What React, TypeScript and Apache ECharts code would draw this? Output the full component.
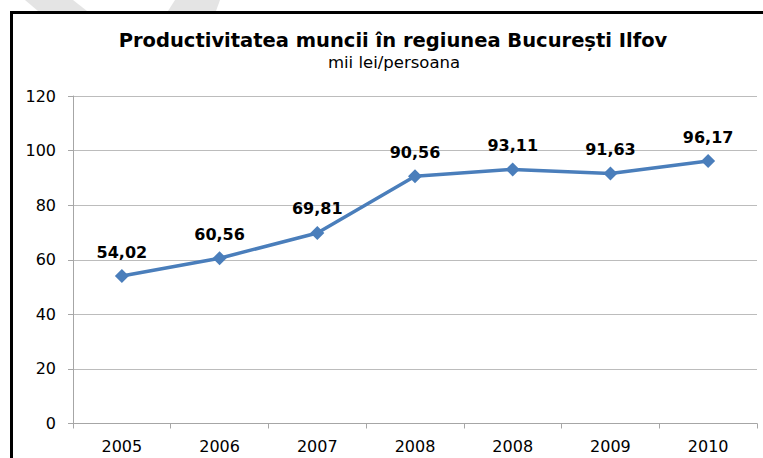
import React, { useEffect, useRef } from "react";
import * as echarts from "echarts";

const categories = ["2005", "2006", "2007", "2008", "2008", "2009", "2010"];
const values = [54.02, 60.56, 69.81, 90.56, 93.11, 91.63, 96.17];
const yMin = 0;
const yMax = 120;
const yStep = 20;
const titleText = "Productivitatea muncii în regiunea București Ilfov";
const subtitleText = "mii lei/persoana";

const FONT = '"DejaVu Sans", "Liberation Sans", Arial, sans-serif';

export default function App() {
  const ref = useRef<HTMLDivElement>(null);

  useEffect(() => {
    if (!ref.current) return;
    const chart = echarts.init(ref.current, null, { renderer: "svg" });
    const axisColor = "#a6a6a6";
    chart.setOption({
      animation: false,
      backgroundColor: "#ffffff",
      grid: { left: 73, right: 6, top: 96, bottom: 34.5, containLabel: false },
      xAxis: {
        type: "category",
        data: categories,
        boundaryGap: true,
        axisLine: { show: true, lineStyle: { color: axisColor, width: 1 } },
        axisTick: { show: true, length: 5, interval: 0, alignWithLabel: false, lineStyle: { color: axisColor } },
        axisLabel: { interval: 0, color: "#000", fontFamily: FONT, fontSize: 16, margin: 15 },
        splitLine: { show: false },
      },
      yAxis: {
        type: "value",
        min: yMin,
        max: yMax,
        interval: yStep,
        axisLine: { show: true, lineStyle: { color: axisColor, width: 1 } },
        axisTick: { show: true, length: 5, lineStyle: { color: axisColor } },
        axisLabel: { color: "#000", fontFamily: FONT, fontSize: 16, margin: 17 },
        splitLine: { show: true, lineStyle: { color: "#bcbcbc", width: 1 } },
      },
      series: [
        {
          type: "line",
          data: values,
          symbol: "diamond",
          symbolSize: 14,
          lineStyle: { color: "#4a7ebb", width: 3.5 },
          itemStyle: { color: "#4a7ebb" },
          label: {
            show: true,
            position: "top",
            distance: 9,
            color: "#000",
            fontFamily: FONT,
            fontWeight: "bold",
            fontSize: 16,
            formatter: (p: any) => Number(p.value).toFixed(2).replace(".", ","),
          },
        },
      ],
      graphic: [
        {
          type: "polygon",
          shape: { points: [[25, 0], [73, 0], [87, 11], [38, 11]] },
          style: { fill: "#e4e4e4" },
          silent: true,
        },
        {
          type: "polygon",
          shape: { points: [[175, 0], [220, 0], [216, 11], [168, 11]] },
          style: { fill: "#e4e4e4" },
          silent: true,
        },
        {
          type: "rect",
          shape: { x: 11.5, y: 12.5, width: 900, height: 600 },
          style: { fill: "none", stroke: "#000", lineWidth: 3 },
          silent: true,
        },
        {
          type: "text",
          x: 393,
          y: 40,
          style: {
            text: titleText,
            font: 'bold 19.5px "DejaVu Sans", "Liberation Sans", Arial, sans-serif',
            fill: "#000",
            align: "center",
            verticalAlign: "middle",
          },
        },
        {
          type: "text",
          x: 394,
          y: 62,
          style: {
            text: subtitleText,
            font: '16.5px "DejaVu Sans", "Liberation Sans", Arial, sans-serif',
            fill: "#000",
            align: "center",
            verticalAlign: "middle",
          },
        },
      ],
    });
    return () => chart.dispose();
  }, []);

  return (
    <div
      ref={ref}
      style={{ position: "fixed", left: 0, top: 0, width: 763, height: 458, background: "#fff" }}
    />
  );
}
